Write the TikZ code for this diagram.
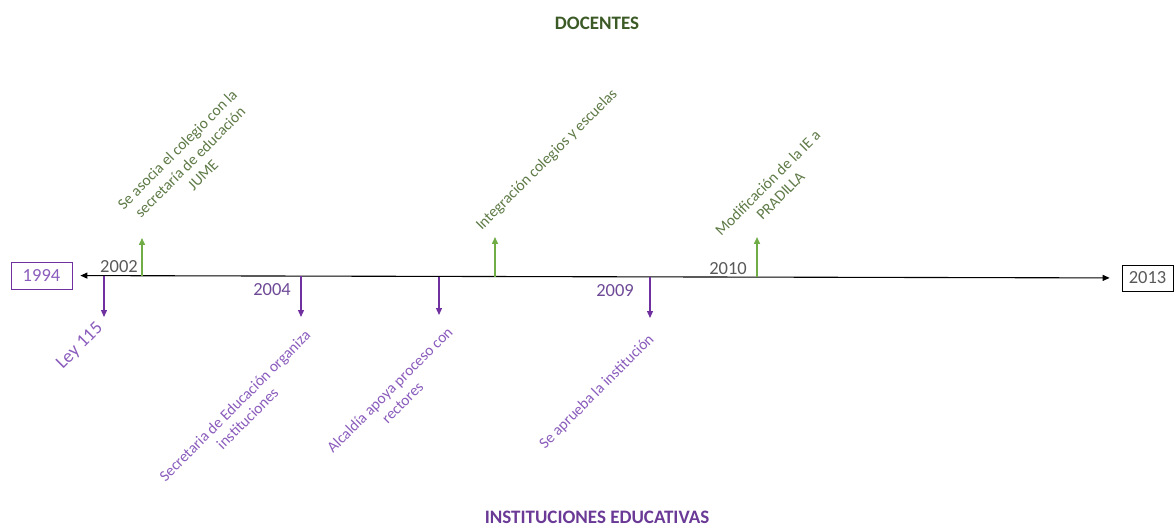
\documentclass[tikz,border=0pt]{standalone}
\usepackage{fontspec}
\setmainfont{Carlito}
\usetikzlibrary{arrows.meta}
\definecolor{tlGreen}{HTML}{70AD47}
\definecolor{tlPurple}{HTML}{7030A0}
\definecolor{tlGreenText}{HTML}{5E7A46}
\definecolor{tlPurpleText}{HTML}{8A5CBC}
\definecolor{tlDarkGreen}{HTML}{3B5A26}
\definecolor{tlDarkPurple}{HTML}{6A3A96}
\definecolor{tlGray}{HTML}{595959}
\tikzset{
    yearbox/.style={rectangle,draw,thick,inner sep=0pt,font=\fontsize{18.5}{20}\selectfont},
    yeartxt/.style={inner sep=0pt,font=\fontsize{18.5}{20}\selectfont},
    upnote/.style={rotate=45,align=center,inner sep=0pt,text=tlGreenText,font=\fontsize{15.5}{18}\selectfont},
    downnote/.style={rotate=45,align=center,inner sep=0pt,text=tlPurpleText,font=\fontsize{15.5}{18}\selectfont},
    heading/.style={inner sep=0pt,font=\fontsize{19}{21}\selectfont\bfseries},
    timeline/.style={{Triangle[length=7pt,width=6pt]}-{Triangle[length=7pt,width=6pt]},line width=1.1pt,black},
    uparrow/.style={-{Triangle[length=7pt,width=6pt]},line width=1.5pt,tlGreen},
    downarrow/.style={-{Triangle[length=7pt,width=6pt]},line width=1.3pt,tlPurple}
}
\begin{document}
\begin{tikzpicture}[x=1pt,y=-1pt]
    \useasboundingbox (0,0) rectangle (1175,529);

    % Titles
    \node[heading,text=tlDarkGreen] (docentes) at (597,23) {DOCENTES};
    \node[heading,text=tlDarkPurple] (instituciones) at (597,517) {INSTITUCIONES EDUCATIVAS};

    % End years and main line
    \node[yearbox,draw=tlPurple,text=tlPurpleText,minimum width=61pt,minimum height=27pt] (y1994) at (41.5,275.5) {1994};
    \node[yearbox,draw=black,text=tlGray,minimum width=51pt,minimum height=26pt] (y2013) at (1147.5,278) {2013};
    \draw[timeline,shorten <=8pt,shorten >=12pt] (y1994) -- (y2013);

    % Points on the line
    \coordinate (p1994) at (104,276);
    \coordinate (p2002) at (142,276);
    \coordinate (p2004) at (301,276.5);
    \coordinate (pAlc) at (439,277);
    \coordinate (pInt) at (495,277);
    \coordinate (p2009) at (650,277);
    \coordinate (p2010) at (757,277);

    % Arrow ends
    \coordinate (e1994) at (104,317);
    \coordinate (e2002) at (142,238);
    \coordinate (e2004) at (301,317);
    \coordinate (eAlc) at (439,315);
    \coordinate (eInt) at (495,237);
    \coordinate (e2009) at (650,318);
    \coordinate (e2010) at (757,237);

    % Docentes (up)
    \draw[uparrow] (p2002) -- (e2002);
    \draw[uparrow] (pInt) -- (eInt);
    \draw[uparrow] (p2010) -- (e2010);

    % Instituciones (down)
    \draw[downarrow] (p1994) -- (e1994);
    \draw[downarrow] (p2004) -- (e2004);
    \draw[downarrow] (pAlc) -- (eAlc);
    \draw[downarrow] (p2009) -- (e2009);

    % Years along the line
    \node[yeartxt,text=tlGray] (t2002) at (119,267) {2002};
    \node[yeartxt,text=tlPurpleText!80!black] (t2004) at (272,290) {2004};
    \node[yeartxt,text=tlPurpleText!80!black] (t2009) at (615,291) {2009};
    \node[yeartxt,text=tlGray] (t2010) at (728,269) {2010};

    % Labels
    \node[upnote] (n2002) at (190,162) {Se asocia el colegio con la\\secretaría de educación\\JUME};
    \node[upnote] (nInt) at (547,160) {Integración colegios y escuelas};
    \node[upnote] (n2010) at (774,189) {Modificación de la IE a\\PRADILLA};
    \node[downnote,font=\fontsize{18.5}{20}\selectfont] (n1994) at (80,346) {Ley 115};
    \node[downnote] (n2004) at (241,412) {Secretaria de Educación organiza\\instituciones};
    \node[downnote] (nAlc) at (396,396) {Alcaldía apoya proceso con\\rectores};
    \node[downnote] (n2009) at (597,392) {Se aprueba la institución};
\end{tikzpicture}
\end{document}
